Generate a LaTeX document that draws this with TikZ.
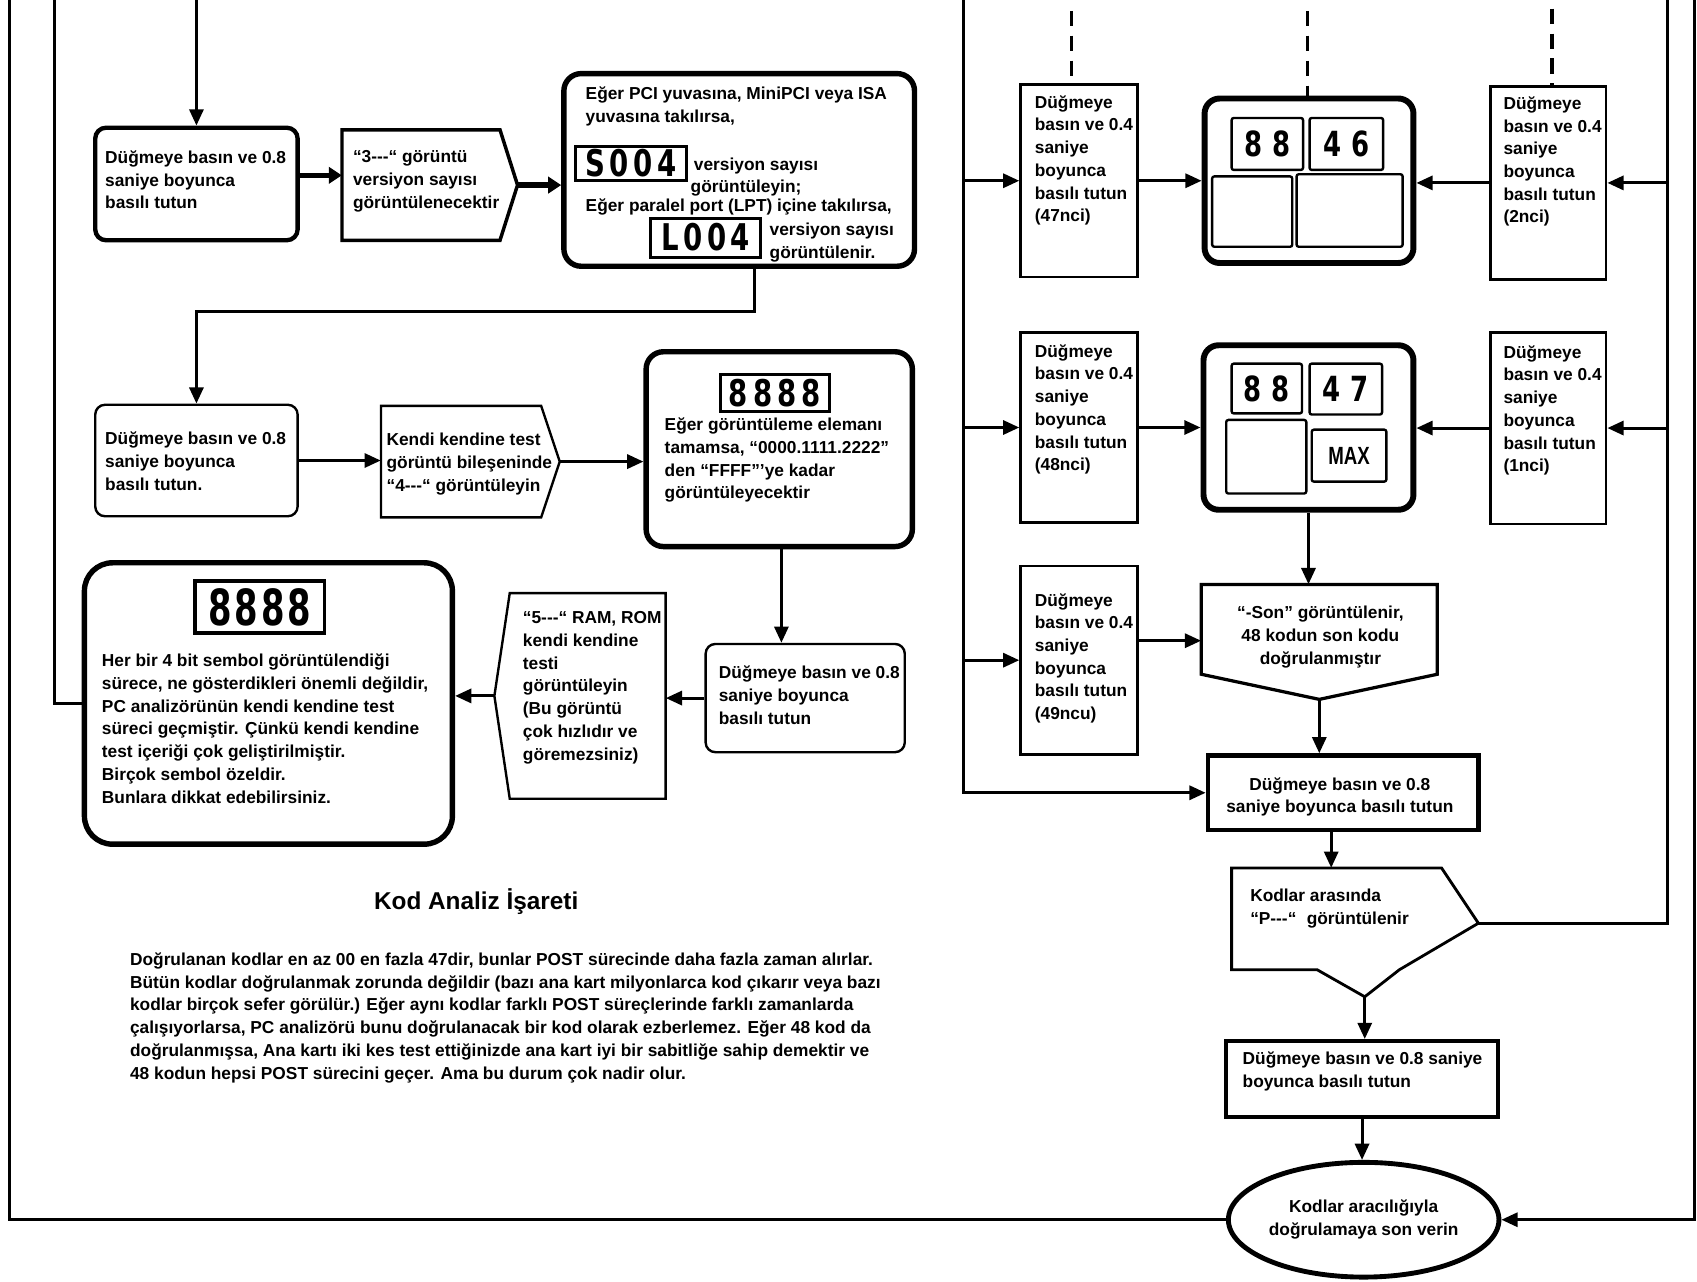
\documentclass[tikz,border=0pt]{standalone}
\usepackage{fontspec}
\setmainfont{Liberation Sans}
\newfontfamily\segfont{DejaVu Sans}
\usetikzlibrary{arrows.meta,calc,fit,shapes.geometric}
% size, horizontal stretch, letterspace, text
\newcommand\segnum[4]{{\fontsize{#1}{#1}\segfont\bfseries\addfontfeature{FakeStretch=#2,LetterSpace=#3}#4}}
\begin{document}
\begin{tikzpicture}[x=1pt,y=-1pt,
  conn/.style={line width=2.8pt,-{Triangle[length=15pt,width=13pt]}},
  fatconn/.style={line width=5pt,-{Triangle[length=12pt,width=15pt]}},
  lin/.style={line width=2.8pt},
  dashln/.style={line width=2.8pt,dash pattern=on 14pt off 9pt},
  rbthin/.style={draw,line width=2.2pt,rounded corners=9pt,inner sep=0pt},
  rbthick/.style={draw,line width=4.5pt,rounded corners=13pt,inner sep=0pt},
  sq/.style={draw,line width=2.4pt,inner sep=0pt},
  sqthick/.style={draw,line width=4pt,inner sep=0pt},
  hid/.style={inner sep=0pt},
  txt/.style={anchor=north west,inner sep=0pt,align=left,yshift=-3pt,font=\fontsize{16}{21}\selectfont\bfseries,execute at begin node={\rule{0pt}{15pt}}},
  ctxt/.style={txt,anchor=north,align=center},
  disp/.style={draw,line width=2.8pt,inner sep=0pt},
  panel/.style={draw,line width=2.2pt,rounded corners=2pt,inner sep=0pt},
]
\useasboundingbox (0,0) rectangle (1568,1184);
\fill[white] (0,0) rectangle (1568,1184);

% ---------------- left column ----------------
\node[rbthick,line width=4pt,rounded corners=10pt,fit={(88,118) (275,222)}] (A1) {};
\node[txt] (A1t) at (97,136) {Düğmeye basın ve 0.8\\saniye boyunca\\basılı tutun};

\node[hid,fit={(316,120) (478,222)}] (A2) {};
\draw[line width=3.2pt] (316,120) -- (462,120) -- (A2.east) -- (462,222) -- (316,222) -- cycle;
\node[txt] (A2t) at (326,136) {“3-{}-{}-“ görüntü\\versiyon sayısı\\görüntülenecektir};

\node[rbthick,line width=5pt,rounded corners=16pt,fit={(521,68) (845,246)}] (A3) {};
\node[txt] (A3t1) at (541,77) {Eğer PCI yuvasına, MiniPCI veya ISA\\yuvasına takılırsa,};
\node[disp,minimum width=102pt,minimum height=32pt] (S004) at (583,151) {\segnum{34}{0.75}{12}{S004}};
\node[txt] (A3t2) at (641,139) {versiyon sayısı};
\node[txt] (A3t3) at (638,160) {görüntüleyin;};
\node[txt] (A3t4) at (541,177) {Eğer paralel port (LPT) içine takılırsa,};
\node[disp,minimum width=102pt,minimum height=36pt] (L004) at (652,219.5) {\segnum{34}{0.75}{12}{L004}};
\node[txt] (A3t5) at (711,203) {versiyon sayısı\\görüntülenir.};

\node[rbthin,fit={(88,374) (275,477)}] (B1) {};
\node[txt] (B1t) at (97,396) {Düğmeye basın ve 0.8\\saniye boyunca\\basılı tutun.};

\node[hid,fit={(352,375) (517,478)}] (B2) {};
\draw[line width=2.2pt] (352,375) -- (500,375) -- (B2.east) -- (500,478) -- (352,478) -- cycle;
\node[txt] (B2t) at (357,397) {Kendi kendine test\\görüntü bileşeninde\\“4-{}-{}-“ görüntüleyin};

\node[rbthick,line width=5pt,rounded corners=16pt,fit={(597,325) (843,505)}] (B3) {};
\node[disp,minimum width=100pt,minimum height=34pt] (B3d) at (716,363) {\segnum{34}{0.75}{14}{8888}};
\node[txt] (B3t) at (614,383) {Eğer görüntüleme elemanı\\tamamsa, “0000.1111.2222”\\den “FFFF”’ye kadar\\görüntüleyecektir};

\node[rbthin,fit={(652,595) (836,695)}] (C1) {};
\node[txt] (C1t) at (664,612) {Düğmeye basın ve 0.8\\saniye boyunca\\basılı tutun};

\node[hid,fit={(457,548) (615,738)}] (C2) {};
\draw[line width=2.2pt] (615,548) -- (615,738) -- (471,738) -- (C2.west) -- (471,548) -- cycle;
\node[txt] (C2t) at (483,562) {“5-{}-{}-“ RAM, ROM\\kendi kendine\\testi\\görüntüleyin\\(Bu görüntü\\çok hızlıdır ve\\göremezsiniz)};

\node[rbthick,line width=5pt,rounded corners=26pt,fit={(78,520) (418,780)}] (C3) {};
\node[disp,line width=3.2pt,minimum width=120pt,minimum height=48pt] (C3d) at (240,561) {\segnum{46}{0.68}{5.5}{8888}};
\node[txt] (C3t) at (94,601) {Her bir 4 bit sembol görüntülendiği\\sürece, ne gösterdikleri önemli değildir,\\PC analizörünün kendi kendine test\\süreci geçmiştir. Çünkü kendi kendine\\test içeriği çok geliştirilmiştir.\\Birçok sembol özeldir.\\Bunlara dikkat edebilirsiniz.};

\node[inner sep=0pt,font=\fontsize{22.5}{27}\selectfont\bfseries] (title) at (440,833) {Kod Analiz İşareti};
\node[txt] (para) at (120,877) {Doğrulanan kodlar en az 00 en fazla 47dir, bunlar POST sürecinde daha fazla zaman alırlar.\\Bütün kodlar doğrulanmak zorunda değildir (bazı ana kart milyonlarca kod çıkarır veya bazı\\kodlar birçok sefer görülür.) Eğer aynı kodlar farklı POST süreçlerinde farklı zamanlarda\\çalışıyorlarsa, PC analizörü bunu doğrulanacak bir kod olarak ezberlemez. Eğer 48 kod da\\doğrulanmışsa, Ana kartı iki kes test ettiğinizde ana kart iyi bir sabitliğe sahip demektir ve\\48 kodun hepsi POST sürecini geçer. Ama bu durum çok nadir olur.};

% ---------------- right column ----------------
\node[sq,fit={(943,78) (1051,256)}] (R1L) {};
\node[txt] (R1Lt) at (956,85) {Düğmeye\\basın ve 0.4\\saniye\\boyunca\\basılı tutun\\(47nci)};
\node[rbthick,line width=5.5pt,rounded corners=14pt,fit={(1113,91) (1306,243)}] (P1) {};
\node[panel,minimum width=66pt,minimum height=48pt] (P1a) at (1171,133) {\segnum{32}{0.75}{30}{88}};
\node[panel,minimum width=68pt,minimum height=48pt] (P1b) at (1244,133) {\segnum{32}{0.75}{30}{46}};
\node[panel,fit={(1120,163) (1194,228)}] (P1c) {};
\node[panel,fit={(1198,161) (1296,228)}] (P1d) {};
\node[sq,fit={(1377,80) (1484,258)}] (R1R) {};
\node[txt] (R1Rt) at (1389,86) {Düğmeye\\basın ve 0.4\\saniye\\boyunca\\basılı tutun\\(2nci)};

\node[sq,fit={(943,307) (1051,483)}] (R2L) {};
\node[txt] (R2Lt) at (956,315) {Düğmeye\\basın ve 0.4\\saniye\\boyunca\\basılı tutun\\(48nci)};
\node[rbthick,line width=5.5pt,rounded corners=14pt,fit={(1112,319) (1306,471)}] (P2) {};
\node[panel,minimum width=65pt,minimum height=46pt] (P2a) at (1170.5,359) {\segnum{32}{0.75}{30}{88}};
\node[panel,minimum width=67pt,minimum height=47pt] (P2b) at (1243.5,359.5) {\segnum{32}{0.75}{30}{47}};
\node[panel,fit={(1133,388) (1207,456)}] (P2c) {};
\node[panel,minimum width=69pt,minimum height=48pt,font=\fontsize{23}{23}\selectfont\bfseries\addfontfeature{FakeStretch=0.75}] (P2d) at (1246.5,421) {MAX};
\node[sq,fit={(1377,307) (1484,484)}] (R2R) {};
\node[txt] (R2Rt) at (1389,316) {Düğmeye\\basın ve 0.4\\saniye\\boyunca\\basılı tutun\\(1nci)};

\node[sq,fit={(943,523) (1051,697)}] (R3L) {};
\node[txt] (R3Lt) at (956,545) {Düğmeye\\basın ve 0.4\\saniye\\boyunca\\basılı tutun\\(49ncu)};

\node[hid,fit={(1110,540) (1328,646)}] (Son) {};
\draw[line width=3pt] (1110,540) -- (1328,540) -- (1328,623) -- (Son.south) -- (1110,623) -- cycle;
\node[ctxt] (Sont) at (1220,557) {“-Son” görüntülenir,\\48 kodun son kodu\\doğrulanmıştır};

\node[sqthick,minimum width=250pt,minimum height=69pt] (D) at (1241,732.5) {};
\node[ctxt] (Dt) at (1238,715) {Düğmeye basın ve 0.8\\saniye boyunca basılı tutun};

\node[hid,fit={(1138,802) (1366,921)}] (P) {};
\coordinate (Ptip) at (1366,853);
\coordinate (Pv) at (1261,921);
\draw[line width=2.6pt] (1138,802) -- (1332,802) -- (Ptip) -- (1293,896) -- (Pv) -- (1217,896) -- (1138,896) -- cycle;
\node[txt] (Pt) at (1155,818) {Kodlar arasında\\“P-{}-{}-“\hspace{0.6em}görüntülenir};

\node[sqthick,fit={(1133,962) (1384,1032)}] (E) {};
\node[txt] (Et) at (1148,969) {Düğmeye basın ve 0.8 saniye\\boyunca basılı tutun};

\node[draw,ellipse,line width=4.5pt,minimum width=250pt,minimum height=106pt,inner sep=0pt,align=center,font=\fontsize{16}{21}\selectfont\bfseries] (EL) at (1260,1127) {Kodlar aracılığıyla\\doğrulamaya son verin};

% ---------------- connectors ----------------
\coordinate (inA) at (181.5,-5);
\draw[conn] (inA) -- (A1.north);
\draw[fatconn] ([yshift=8pt]A1.east) -- ([yshift=8pt]A1.east -| A2.west);
\draw[fatconn] (A2.east) -- (A2.east -| A3.west);
\draw[conn] (697,0 |- A3.south) -- (697,288) -| (B1.north);
\draw[conn] (B1.east) -- (B1.east -| B2.west);
\draw[conn] (B2.east) -- (B2.east -| B3.west);
\draw[conn] (722,0 |- B3.south) -- (722,0 |- C1.north);
\draw[conn] (C1.west) -- (C1.west -| C2.east);
\draw[conn] (C2.west) -- (C2.west -| C3.east);
\coordinate (topL1) at (50,-5);
\draw[lin] (topL1) |- (C3.west);
\coordinate (topL0) at (9,-5);
\draw[lin] (topL0) |- (EL.west);

\coordinate (topR0) at (890,-5);
\draw[conn] (topR0) |- (D.west);
\draw[conn] (890,0 |- R1L.west) -- (R1L.west);
\draw[conn] (890,0 |- R2L.west) -- (R2L.west);
\draw[conn] (890,0 |- R3L.west) -- (R3L.west);
\draw[conn] (R1L.east) -- (R1L.east -| P1.west);
\draw[conn] (R2L.east) -- (R2L.east -| P2.west);
\draw[conn] (R1R.west) -- (R1R.west -| P1.east);
\draw[conn] (R2R.west) -- (R2R.west -| P2.east);
\coordinate (topR1) at (1541,-5);
\draw[lin] (topR1) |- (Ptip);
\draw[conn] (1541,0 |- R1R.east) -- (R1R.east);
\draw[conn] (1541,0 |- R2R.east) -- (R2R.east);
\coordinate (topR2) at (1566,-5);
\draw[conn] (topR2) |- (EL.east);
\draw[conn] (1209,0 |- P2.south) -- (1209,0 |- Son.north);
\draw[conn] (R3L.east |- 0,592) -- (Son.west |- 0,592);
\draw[conn] (Son.south) -- (Son.south |- D.north);
\draw[conn] (1230,0 |- D.south) -- (1230,0 |- P.north);
\draw[conn] (Pv) -- (Pv |- E.north);
\draw[conn] (E.south) -- (E.south |- EL.north);

\coordinate (dA) at (990,10);
\coordinate (dB) at (1208,10);
\coordinate (dC) at (1434,8);
\draw[dashln] (dA) -- (dA |- R1L.north);
\draw[dashln] (dB) -- (dB |- P1.north);
\draw[dashln] (dC) -- (dC |- R1R.north);
\end{tikzpicture}
\end{document}
